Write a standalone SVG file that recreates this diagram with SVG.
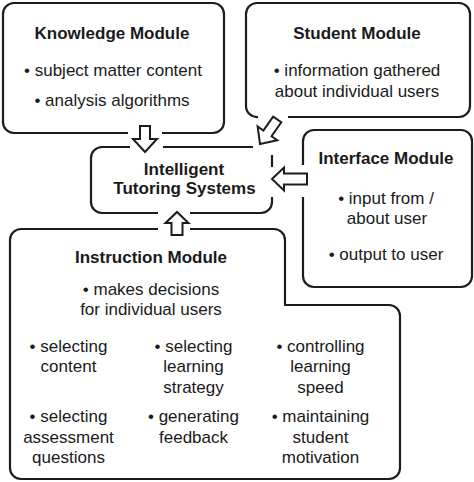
<svg xmlns="http://www.w3.org/2000/svg" width="474" height="482" viewBox="0 0 474 482">
<style>
.box{fill:none;stroke:#1c1c1c;stroke-width:2.2;stroke-linecap:butt;stroke-linejoin:round}
.arr{fill:#fff;stroke:#1c1c1c;stroke-width:2;stroke-linejoin:miter}
text{font-family:"Liberation Sans",Arial,sans-serif;font-size:17px;fill:#1a1a1a;text-anchor:middle}
.t{font-weight:bold}
</style>
<rect width="474" height="482" fill="#fff"/>
<g id="knowledge">
<path class="box" d="M128 133H14A11 11 0 0 1 3 122V14A11 11 0 0 1 14 3H213A11 11 0 0 1 224 14V122A11 11 0 0 1 213 133H162"/>
<text class="t" x="112" y="39">Knowledge Module</text>
<text x="113" y="76">• subject matter content</text>
<text x="112" y="106">• analysis algorithms</text>
</g>
<g id="student">
<path class="box" d="M258 117A11 11 0 0 1 246 106V14A11 11 0 0 1 257 3H459A11 11 0 0 1 470 14V106A11 11 0 0 1 459 117H288"/>
<text class="t" x="357" y="39">Student Module</text>
<text x="357" y="76">• information gathered</text>
<text x="357" y="96.5">about individual users</text>
</g>
<g id="its">
<path class="box" d="M130 147H102A11 11 0 0 0 91 158V202A11 11 0 0 0 102 213H158M190 213H261A11 11 0 0 0 272 202V197M272 167V155M163 147H253"/>
<text class="t" x="184" y="175">Intelligent</text>
<text class="t" x="184.5" y="194">Tutoring Systems</text>
</g>
<g id="interface">
<path class="box" d="M303 165V141A11 11 0 0 1 314 130H461A11 11 0 0 1 472 141V276A11 11 0 0 1 461 287H314A11 11 0 0 1 303 276V197"/>
<text class="t" x="386" y="164">Interface Module</text>
<text x="386" y="203.5">• input from /</text>
<text x="387" y="224">about user</text>
<text x="386" y="259.5">• output to user</text>
</g>
<g id="instruction">
<path class="box" d="M158 229H21A11 11 0 0 0 10 240V468A11 11 0 0 0 21 479H389A11 11 0 0 0 400 468V316A11 11 0 0 0 389 305H285V240A11 11 0 0 0 274 229H190"/>
<text class="t" x="151" y="262.5">Instruction Module</text>
<text x="151" y="295">• makes decisions</text>
<text x="151" y="315">for individual users</text>
<text x="68.5" y="351.5">• selecting</text>
<text x="68.5" y="372">content</text>
<text x="193.5" y="351.5">• selecting</text>
<text x="193.5" y="372">learning</text>
<text x="193.5" y="392.5">strategy</text>
<text x="320.5" y="351.5">• controlling</text>
<text x="320.5" y="372">learning</text>
<text x="320.5" y="392.5">speed</text>
<text x="68.5" y="422">• selecting</text>
<text x="68.5" y="442.5">assessment</text>
<text x="68.5" y="463">questions</text>
<text x="193.5" y="422">• generating</text>
<text x="193.5" y="442.5">feedback</text>
<text x="320.5" y="422">• maintaining</text>
<text x="320.5" y="442.5">student</text>
<text x="320.5" y="463">motivation</text>
</g>
<g id="connectors">
<polygon class="arr" transform="translate(145 152)" points="-5,-26 5,-26 5,-13 12,-13 0,0 -12,-13 -5,-13"/>
<polygon class="arr" transform="translate(260 144) rotate(35)" points="-5,-30 5,-30 5,-13 12,-13 0,0 -12,-13 -5,-13"/>
<polygon class="arr" transform="translate(177 212) rotate(180)" points="-5.5,-23 5.5,-23 5.5,-11 11.5,-11 0,0 -11.5,-11 -5.5,-11"/>
<polygon class="arr" points="272,179 284,167.5 284,173.5 307,173.5 307,184.5 284,184.5 284,190.5"/>
</g>
</svg>
